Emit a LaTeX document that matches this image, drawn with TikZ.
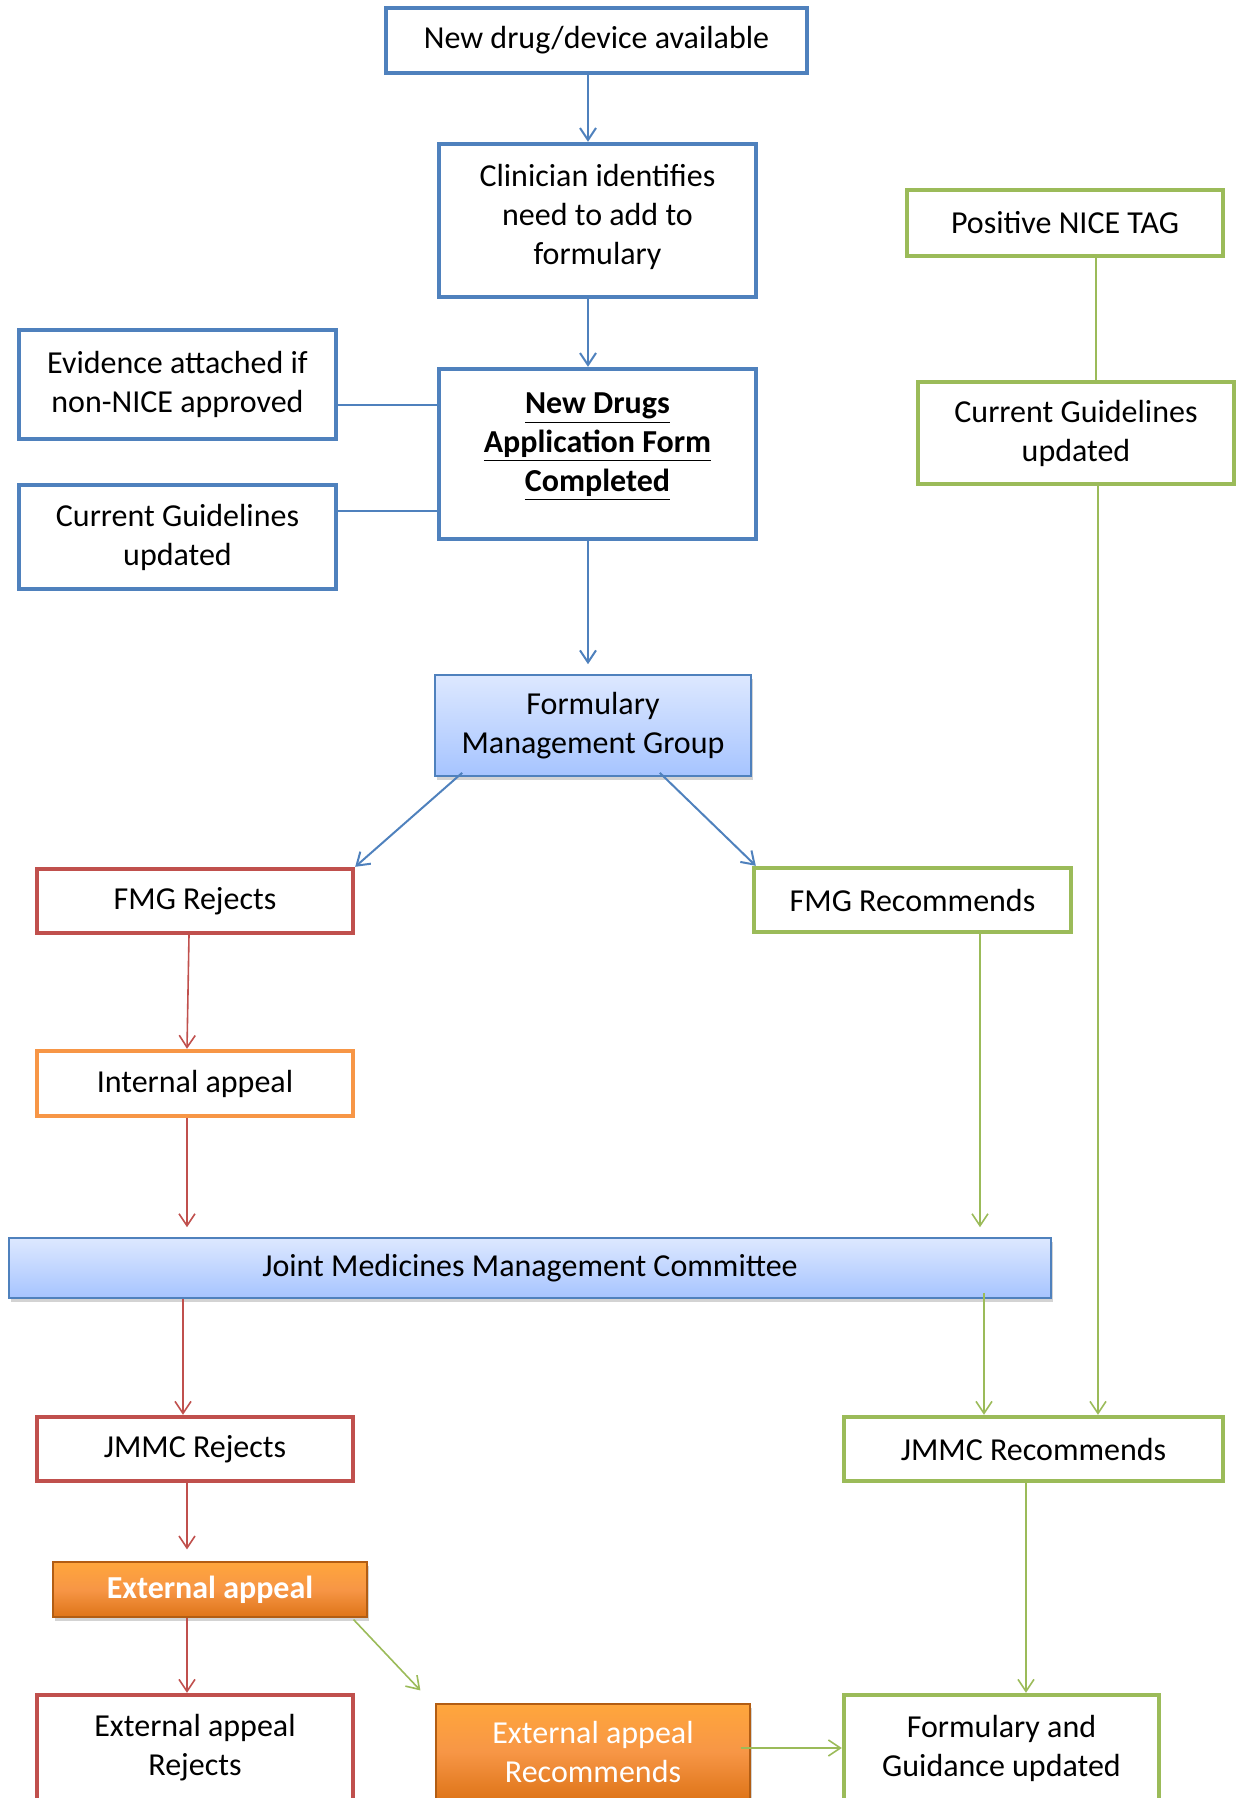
\documentclass[tikz,border=0pt]{standalone}
\usepackage{fontspec}
\setmainfont{Carlito}
\usetikzlibrary{arrows.meta,shadows}

\definecolor{fblue}{HTML}{4F81BD}
\definecolor{fred}{HTML}{C0504D}
\definecolor{fgreen}{HTML}{9BBB59}
\definecolor{forange}{HTML}{F79646}
\definecolor{gradtop}{HTML}{DDE8FF}
\definecolor{gradbot}{HTML}{A6C4FF}
\definecolor{ortop}{HTML}{FFA63C}
\definecolor{orbot}{HTML}{DE7418}

\tikzset{
    box/.style={draw, line width=2.2pt, fill=white, align=center, inner sep=2pt,
        font=\fontsize{16}{19.5}\selectfont},
    bluebox/.style={box, draw=fblue},
    redbox/.style={box, draw=fred},
    greenbox/.style={box, draw=fgreen},
    orangebox/.style={box, draw=forange},
    gradbox/.style={box, draw=fblue, line width=0.8pt, top color=gradtop, bottom color=gradbot,
        drop shadow={opacity=0.35, shadow xshift=1pt, shadow yshift=-2pt}},
    appealbox/.style={box, draw=orbot!80!black, line width=0.6pt, top color=ortop, bottom color=orbot,
        middle color=forange, text=white,
        drop shadow={opacity=0.35, shadow xshift=1pt, shadow yshift=-2pt}},
    bluearr/.style={draw=fblue, line width=1pt, -{Straight Barb[length=6pt,width=8pt]}},
    redarr/.style={draw=fred, line width=0.8pt, -{Straight Barb[length=6pt,width=8pt]}},
    greenarr/.style={draw=fgreen, line width=0.8pt, -{Straight Barb[length=6pt,width=8pt]}},
}

\begin{document}
\begin{tikzpicture}[x=0.5pt, y=-0.5pt]
    \clip (0,0) rectangle (1236,1798);

    % top chain
    \node[bluebox, minimum width=210.5pt, minimum height=32.5pt] (newdrug) at (596.5,40.5) {New drug/device available};
    \node[bluebox, minimum width=158.5pt, minimum height=76.5pt,
        label={[font=\fontsize{16}{19.5}\selectfont, align=center, yshift=1.7pt]center:{Clinician identifies\\need to add to\\formulary}}]
        (clinician) at (597.5,220.5) {};
    \node[bluebox, minimum width=158.5pt, minimum height=54.5pt] (evidence) at (177.5,384.5) {Evidence attached if\\non-NICE approved};
    \node[bluebox, minimum width=158.5pt, minimum height=85pt,
        label={[font=\fontsize{16}{19.5}\selectfont\bfseries, align=center, yshift=3.5pt]center:{\underline{New Drugs}\\\underline{Application Form}\\\underline{Completed}}}]
        (ndaf) at (597.5,454) {};
    \node[bluebox, minimum width=158.5pt, minimum height=52pt] (cgleft) at (177.5,537) {Current Guidelines\\updated};

    % NICE branch
    \node[greenbox, minimum width=158pt, minimum height=33pt] (nice) at (1065,223) {Positive NICE TAG};
    \node[greenbox, minimum width=158pt, minimum height=51pt] (cgright) at (1076,433) {Current Guidelines\\updated};

    % FMG
    \node[gradbox, minimum width=158pt, minimum height=50.5pt] (fmg) at (593,725.5) {Formulary\\Management Group};
    \node[redbox, minimum width=158pt, minimum height=32pt] (fmgrej) at (195,901) {FMG Rejects};
    \node[greenbox, minimum width=158.5pt, minimum height=32pt] (fmgrec) at (912.5,900) {FMG Recommends};
    \node[orangebox, minimum width=158pt, minimum height=32.5pt] (internal) at (195,1083.5) {Internal appeal};

    % JMMC
    \node[gradbox, minimum width=521pt, minimum height=30pt] (jmmc) at (530,1268) {Joint Medicines Management Committee};
    \node[redbox, minimum width=158pt, minimum height=32pt] (jmmcrej) at (195,1449) {JMMC Rejects};
    \node[greenbox, minimum width=189.5pt, minimum height=32pt] (jmmcrec) at (1033.5,1449) {JMMC Recommends};

    % appeals
    \node[appealbox, minimum width=157pt, minimum height=27.5pt, font=\fontsize{16}{19.5}\selectfont\bfseries] (extapp) at (210,1589.5) {External appeal};
    \node[redbox, minimum width=158pt, minimum height=53pt] (extrej) at (195,1748) {External appeal\\Rejects};
    \node[appealbox, minimum width=157pt, minimum height=48pt] (extrec) at (593,1752) {External appeal\\Recommends};
    \node[greenbox, minimum width=157.5pt, minimum height=53pt] (formulary) at (1001.5,1748) {Formulary and\\Guidance updated};

    % columns for the straight connectors
    \coordinate (cmain) at (588,0);
    \coordinate (cleft) at (187,0);
    \coordinate (cjleft) at (183,0);
    \coordinate (cfmgrec) at (980,0);
    \coordinate (cjrec) at (984,0);
    \coordinate (cnice) at (1096,0);
    \coordinate (cform) at (1026,0);

    \draw[bluearr] (newdrug.south -| cmain) -- (clinician.north -| cmain);
    \draw[bluearr] (clinician.south -| cmain) -- (ndaf.north -| cmain);
    \draw[fblue, line width=1pt] ([yshift=-10pt]evidence.east) -- ([yshift=-10pt]evidence.east -| ndaf.west);
    \draw[fblue, line width=1pt] ([yshift=13pt]cgleft.east) -- ([yshift=13pt]cgleft.east -| ndaf.west);
    \draw[bluearr, shorten >=5pt] (ndaf.south -| cmain) -- (fmg.north -| cmain);
    \draw[bluearr] ([xshift=14pt,yshift=2pt]fmg.south west) -- (fmgrej.north east);
    \draw[bluearr] ([xshift=-46pt,yshift=2pt]fmg.south east) -- ([xshift=2pt]fmgrec.north west);

    \draw[redarr] ([xshift=-3pt]fmgrej.south) -- ([xshift=-4pt]internal.north);
    \draw[redarr, shorten >=5pt] (internal.south -| cleft) -- (jmmc.north -| cleft);
    \draw[greenarr, shorten >=5pt] (fmgrec.south -| cfmgrec) -- (jmmc.north -| cfmgrec);

    \draw[fgreen, line width=0.8pt] (nice.south -| cnice) -- (cgright.north -| cnice);
    \draw[greenarr] ([xshift=1pt]cgright.south -| cnice) -- ([xshift=1pt]jmmcrec.north -| cnice);

    \draw[redarr] (jmmc.south -| cjleft) -- (jmmcrej.north -| cjleft);
    \draw[greenarr] ([yshift=3pt]jmmc.south -| cjrec) -- (jmmcrec.north -| cjrec);
    \draw[redarr, shorten >=6pt] (jmmcrej.south -| cleft) -- (extapp.north -| cleft);
    \draw[redarr] (extapp.south -| cleft) -- (extrej.north -| cleft);
    \draw[greenarr] ([xshift=-7pt,yshift=-1pt]extapp.south east) -- ([xshift=-7.5pt,yshift=6.5pt]extrec.north west);
    \draw[greenarr] ([xshift=-5pt,yshift=2pt]extrec.east) -- (formulary.west);
    \draw[greenarr] (jmmcrec.south -| cform) -- (formulary.north -| cform);
\end{tikzpicture}
\end{document}
